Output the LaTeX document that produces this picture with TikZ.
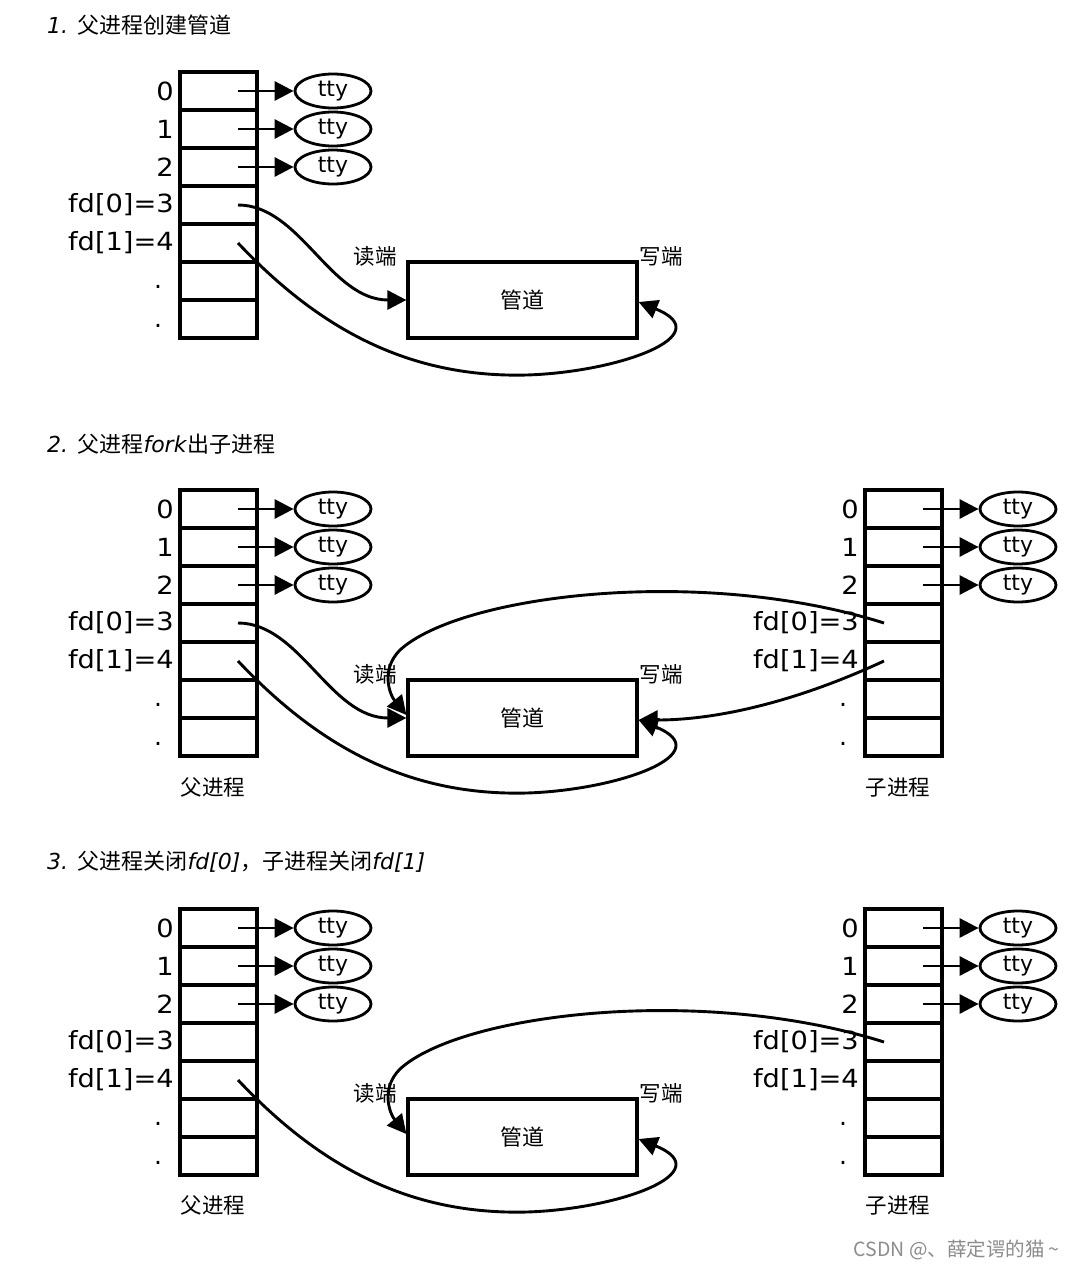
\documentclass[tikz,border=0pt]{standalone}
\usepackage{fontspec}
\setmainfont{DejaVu Sans}
\newfontfamily\cjk{Noto Sans CJK SC}
\usetikzlibrary{shapes.geometric,arrows.meta}

% #1 prefix, #2 left x, #3 y offset, #4 x of fd curve starts
\newcommand\fdtable[4]{%
  \foreach \i in {0,...,6}{
    \node[cell] (#1c\i) at ({#2+38.5},{#3+91+38*\i}) {};
  }
  \foreach \i/\t in {0/0,1/1,2/2,3/{fd[0]=3},4/{fd[1]=4}}{
    \node[lbl,anchor=east] (#1l\i) at ({#2-6},{#3+91+38*\i}) {\scalebox{1.09}[1]{\t}};
  }
  \node[lbl] (#1d5) at ({#2-22},{#3+287}) {.};
  \node[lbl] (#1d6) at ({#2-22},{#3+326}) {.};
  \foreach \i in {0,1,2}{
    \node[tty] (#1t\i) at ({#2+153},{#3+91+38*\i}) {tty};
    \coordinate (#1s\i) at ({#2+58},{#3+91+38*\i});
    \draw[arr] (#1s\i) -- (#1t\i.west);
  }
  \coordinate (#1s3) at ({#4},{#3+205});
  \coordinate (#1s4) at ({#4},{#3+243});
}

\begin{document}
\begin{tikzpicture}[x=1pt,y=-1pt,
  cell/.style={draw,line width=3.2pt,minimum width=77pt,minimum height=38pt,inner sep=0pt,outer sep=0pt},
  lbl/.style={font=\fontsize{25}{25}\selectfont,inner sep=0pt},
  tty/.style={ellipse,draw,line width=2.8pt,minimum width=76pt,minimum height=34pt,inner sep=0pt,font=\fontsize{22}{22}\selectfont},
  arr/.style={line width=2.9pt,-{Triangle[length=19pt,width=19pt]}},
  pipe/.style={draw,line width=3.2pt,minimum width=229pt,minimum height=76pt,inner sep=0pt,font=\cjk\fontsize{22}{22}\selectfont},
  cjkl/.style={font=\cjk\fontsize{21.5}{21.5}\selectfont,inner sep=0pt},
  title/.style={anchor=west,inner sep=0pt,font=\fontsize{22}{22}\selectfont},
  wmark/.style={font=\cjk\fontsize{19.5}{19.5}\selectfont,text=black!45,inner sep=0pt,anchor=east},
]
\fill[white] (0,0) rectangle (1075,1269);
\useasboundingbox (0,0) rectangle (1075,1269);

% ---------- titles ----------
\node[title] (t1) at (47,25) {\textit{1.} {\cjk 父进程创建管道}};
\node[title] (t2) at (47,444) {\textit{2.} {\cjk 父进程}\textit{fork}{\cjk 出子进程}};
\node[title] (t3) at (47,862) {\textit{3.} {\cjk 父进程关闭}\textit{fd[0]}{\cjk ，子进程关闭}\textit{fd[1]}};

% ---------- diagram 1 ----------
\fdtable{A1}{180}{0}{238}
\node[pipe] (pipe1) at (522.5,300) {管道};
\node[cjkl] (rd1) at (375,256) {读端};
\node[cjkl] (wr1) at (661,256) {写端};
\draw[arr] (A1s3) .. controls (300,205) and (330,300) .. (pipe1.west);
\draw[arr] (A1s4) .. controls (320,330) and (410,378) .. (527,375)
  .. controls (620,372) and (720,335) .. ([yshift=-2pt]pipe1.east);

% ---------- diagram 2 ----------
\fdtable{A2}{180}{418}{238}
\fdtable{B2}{865}{418}{884}
\node[pipe] (pipe2) at (522.5,718) {管道};
\node[cjkl] (rd2) at (375,674) {读端};
\node[cjkl] (wr2) at (661,674) {写端};
\node[cjkl] (pn2) at (213,787) {父进程};
\node[cjkl] (cn2) at (898,787) {子进程};
\draw[arr] (A2s3) .. controls (300,623) and (330,718) .. (pipe2.west);
\draw[arr] (A2s4) .. controls (320,748) and (410,796) .. (527,793)
  .. controls (620,790) and (720,753) .. ([yshift=-2pt]pipe2.east);
\draw[arr] (B2s3) .. controls (700,565) and (460,595) .. (400,650)
  .. controls (380,670) and (390,695) .. ([yshift=3pt]pipe2.west);
\draw[arr] (B2s4) .. controls (800,700) and (720,720) .. ([yshift=-2pt]pipe2.east);

% ---------- diagram 3 ----------
\fdtable{A3}{180}{837}{238}
\fdtable{B3}{865}{837}{884}
\node[pipe] (pipe3) at (522.5,1137) {管道};
\node[cjkl] (rd3) at (375,1093) {读端};
\node[cjkl] (wr3) at (661,1093) {写端};
\node[cjkl] (pn3) at (213,1205) {父进程};
\node[cjkl] (cn3) at (898,1205) {子进程};
\draw[arr] (A3s4) .. controls (320,1167) and (410,1215) .. (527,1212)
  .. controls (620,1209) and (720,1172) .. ([yshift=-2pt]pipe3.east);
\draw[arr] (B3s3) .. controls (700,984) and (460,1014) .. (400,1069)
  .. controls (380,1089) and (390,1114) .. ([yshift=3pt]pipe3.west);

% ---------- watermark ----------
\node[wmark] (wm) at (1060,1250) {CSDN @、薛定谔的猫 \char"007E};
\end{tikzpicture}
\end{document}
